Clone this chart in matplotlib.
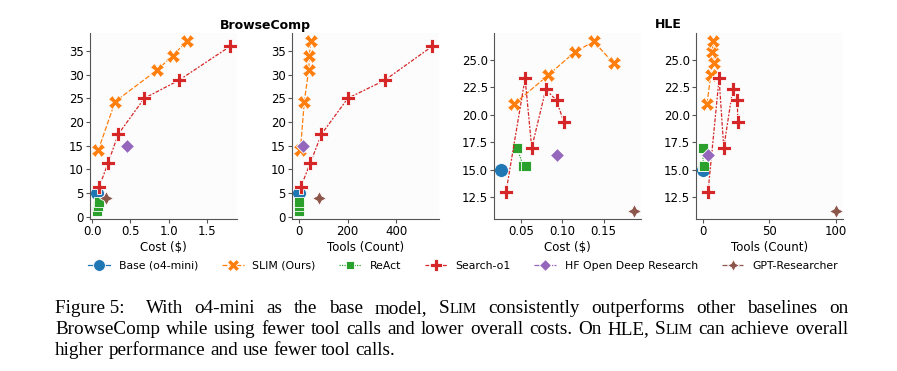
import numpy as np
import matplotlib
matplotlib.use('Agg')
import matplotlib.pyplot as plt
from matplotlib.lines import Line2D

methods = ['Base (o4-mini)', 'SLIM (Ours)', 'ReAct', 'Search-o1',
           'HF Open Deep Research', 'GPT-Researcher']
colors = ['#1f77b4', '#ff7f0e', '#2ca02c', '#d62728', '#9467bd', '#8c564b']
markers = ['o', 'X', (4, 0, 45), 'P', (4, 0, 0), (4, 1, 0)]
dashes = [(None, None), (4, 1.5), (1, 1), (3, 1.25, 1.5, 1.25), (5, 1, 1, 1), (5, 1, 2, 1, 2, 1)]

# BrowseComp: cost ($), tool calls, accuracy
bc_cost = {
    'Base (o4-mini)': [0.06],
    'SLIM (Ours)': [0.08, 0.30, 0.85, 1.05, 1.23],
    'ReAct': [0.06, 0.08, 0.09],
    'Search-o1': [0.09, 0.21, 0.34, 0.68, 1.13, 1.80],
    'HF Open Deep Research': [0.45],
    'GPT-Researcher': [0.18],
}
bc_tools = {
    'Base (o4-mini)': [0],
    'SLIM (Ours)': [7, 23, 41, 44, 49],
    'ReAct': [1, 1, 1],
    'Search-o1': [8, 48, 93, 201, 352, 547],
    'HF Open Deep Research': [16],
    'GPT-Researcher': [82],
}
bc_acc = {
    'Base (o4-mini)': [5.0],
    'SLIM (Ours)': [14.0, 24.3, 31.0, 34.0, 37.0],
    'ReAct': [1.3, 2.3, 3.0],
    'Search-o1': [6.2, 11.4, 17.4, 25.0, 28.8, 36.0],
    'HF Open Deep Research': [15.0],
    'GPT-Researcher': [4.0],
}

# HLE
hle_cost = {
    'Base (o4-mini)': [0.0255],
    'SLIM (Ours)': [0.042, 0.083, 0.115, 0.138, 0.162],
    'ReAct': [0.045, 0.053, 0.056],
    'Search-o1': [0.032, 0.055, 0.063, 0.080, 0.093, 0.102],
    'HF Open Deep Research': [0.093],
    'GPT-Researcher': [0.187],
}
hle_tools = {
    'Base (o4-mini)': [0],
    'SLIM (Ours)': [3.3, 6, 7, 7.8, 8.8],
    'ReAct': [0, 0.5, 0.8],
    'Search-o1': [4, 12.3, 15.8, 22.5, 26, 26.3],
    'HF Open Deep Research': [4],
    'GPT-Researcher': [100.2],
}
hle_acc = {
    'Base (o4-mini)': [15.0],
    'SLIM (Ours)': [21.0, 23.6, 25.7, 26.66, 24.67],
    'ReAct': [17.0, 15.35, 15.35],
    'Search-o1': [13.0, 23.3, 17.0, 22.3, 21.3, 19.3],
    'HF Open Deep Research': [16.35],
    'GPT-Researcher': [11.3],
}

fig = plt.figure(figsize=(8.97, 3.71), dpi=100)
W, H = 897, 371
boxes = [(90, 237), (292, 439), (494, 641), (696, 843)]
top, bottom = 33, 219

panels = [(bc_cost, bc_acc, 'Cost ($)'), (bc_tools, bc_acc, 'Tools (Count)'),
          (hle_cost, hle_acc, 'Cost ($)'), (hle_tools, hle_acc, 'Tools (Count)')]
axes = []
for (l, r), (xs, ys, xlabel) in zip(boxes, panels):
    ax = fig.add_axes([l / W, 1 - bottom / H, (r - l) / W, (bottom - top) / H])
    ax.set_facecolor('#fcfcfc')
    for m, c, mk, d in zip(methods, colors, markers, dashes):
        ln, = ax.plot(xs[m], ys[m], color=c, lw=0.9, marker=mk, ms=10,
                      mec='white', mew=0.6)
        if d[0] is not None:
            ln.set_dashes(d)
    ax.spines['top'].set_visible(False)
    ax.spines['right'].set_visible(False)
    for s in ['left', 'bottom']:
        ax.spines[s].set_color('#555555')
        ax.spines[s].set_linewidth(0.8)
    ax.tick_params(labelsize=8.5, length=3, width=0.8, color='#555555', pad=1.5)
    ax.set_xlabel(xlabel, fontsize=8.5, labelpad=2)
    axes.append(ax)

axes[0].set_xticks([0.0, 0.5, 1.0, 1.5])
axes[0].set_yticks(range(0, 40, 5))
axes[1].set_xticks([0, 200, 400])
axes[1].set_yticks(range(0, 40, 5))
axes[2].set_xticks([0.05, 0.10, 0.15])
axes[2].set_yticks([12.5, 15.0, 17.5, 20.0, 22.5, 25.0])
axes[3].set_xticks([0, 50, 100])
axes[3].set_yticks([12.5, 15.0, 17.5, 20.0, 22.5, 25.0])
axes[3].set_yticklabels(['12.5', '15.0', '17.5', '20.0', '22.5', '25.0'])

fig.text(265 / W, 1 - 25 / H, 'BrowseComp', ha='center', va='center',
         fontsize=9, fontweight='bold')
fig.text(668 / W, 1 - 25 / H, 'HLE', ha='center', va='center',
         fontsize=9, fontweight='bold')

handles = []
for m, c, mk, d in zip(methods, colors, markers, dashes):
    h = Line2D([0], [0], color=c, lw=0.9, marker=mk, ms=8.5, mec='white', mew=0.6)
    if d[0] is not None:
        h.set_dashes(d)
    handles.append(h)
fig.legend(handles, methods, loc='center', bbox_to_anchor=(463 / W, 1 - 266 / H),
           ncol=6, frameon=False, fontsize=7.8, columnspacing=2.2,
           handlelength=2.0, handletextpad=0.8)

# caption with justified lines; small caps for SLIM
serif = 'Liberation Serif'
fs = 13.8
sc = fs * 0.78
lines = [
    [('Figure 5:', fs), ('With', fs), ('o4-mini', fs), ('as', fs), ('the', fs),
     ('base', fs), ('model,', fs), ([('S', fs), ('LIM', sc)], None), ('consistently', fs),
     ('outperforms', fs), ('other', fs), ('baselines', fs), ('on', fs)],
    [('BrowseComp', fs), ('while', fs), ('using', fs), ('fewer', fs), ('tool', fs),
     ('calls', fs), ('and', fs), ('lower', fs), ('overall', fs), ('costs.', fs), ('On', fs),
     ('HLE,', fs), ([('S', fs), ('LIM', sc)], None), ('can', fs), ('achieve', fs),
     ('overall', fs)],
    [('higher', fs), ('performance', fs), ('and', fs), ('use', fs), ('fewer', fs),
     ('tool', fs), ('calls.', fs)],
]
x0, x1 = 55, 848
ys_cap = [313, 334, 355]
renderer = fig.canvas.get_renderer()


def measure(s, size):
    t = fig.text(0, 0, s, fontsize=size, family=serif)
    w = t.get_window_extent(renderer).width
    t.remove()
    return w


space = measure('a a', fs) - measure('aa', fs)
for li, (words, yc) in enumerate(zip(lines, ys_cap)):
    pieces = []
    for w, size in words:
        if size is None:
            pieces.append(w)
        else:
            pieces.append([(w, size)])
    widths = [sum(measure(s, z) for s, z in p) for p in pieces]
    if li < 2:
        extra = 2 * space if li == 0 else 0
        gap = (x1 - x0 - sum(widths) - extra) / (len(pieces) - 1)
    else:
        gap = space
    x = x0
    for i, (p, wd) in enumerate(zip(pieces, widths)):
        xx = x
        for s, z in p:
            fig.text(xx / W, 1 - yc / H, s, fontsize=z, family=serif,
                     ha='left', va='baseline')
            xx += measure(s, z)
        x += wd + gap
        if li == 0 and i == 0:
            x += 2 * space

fig.savefig('out.png', dpi=100)
